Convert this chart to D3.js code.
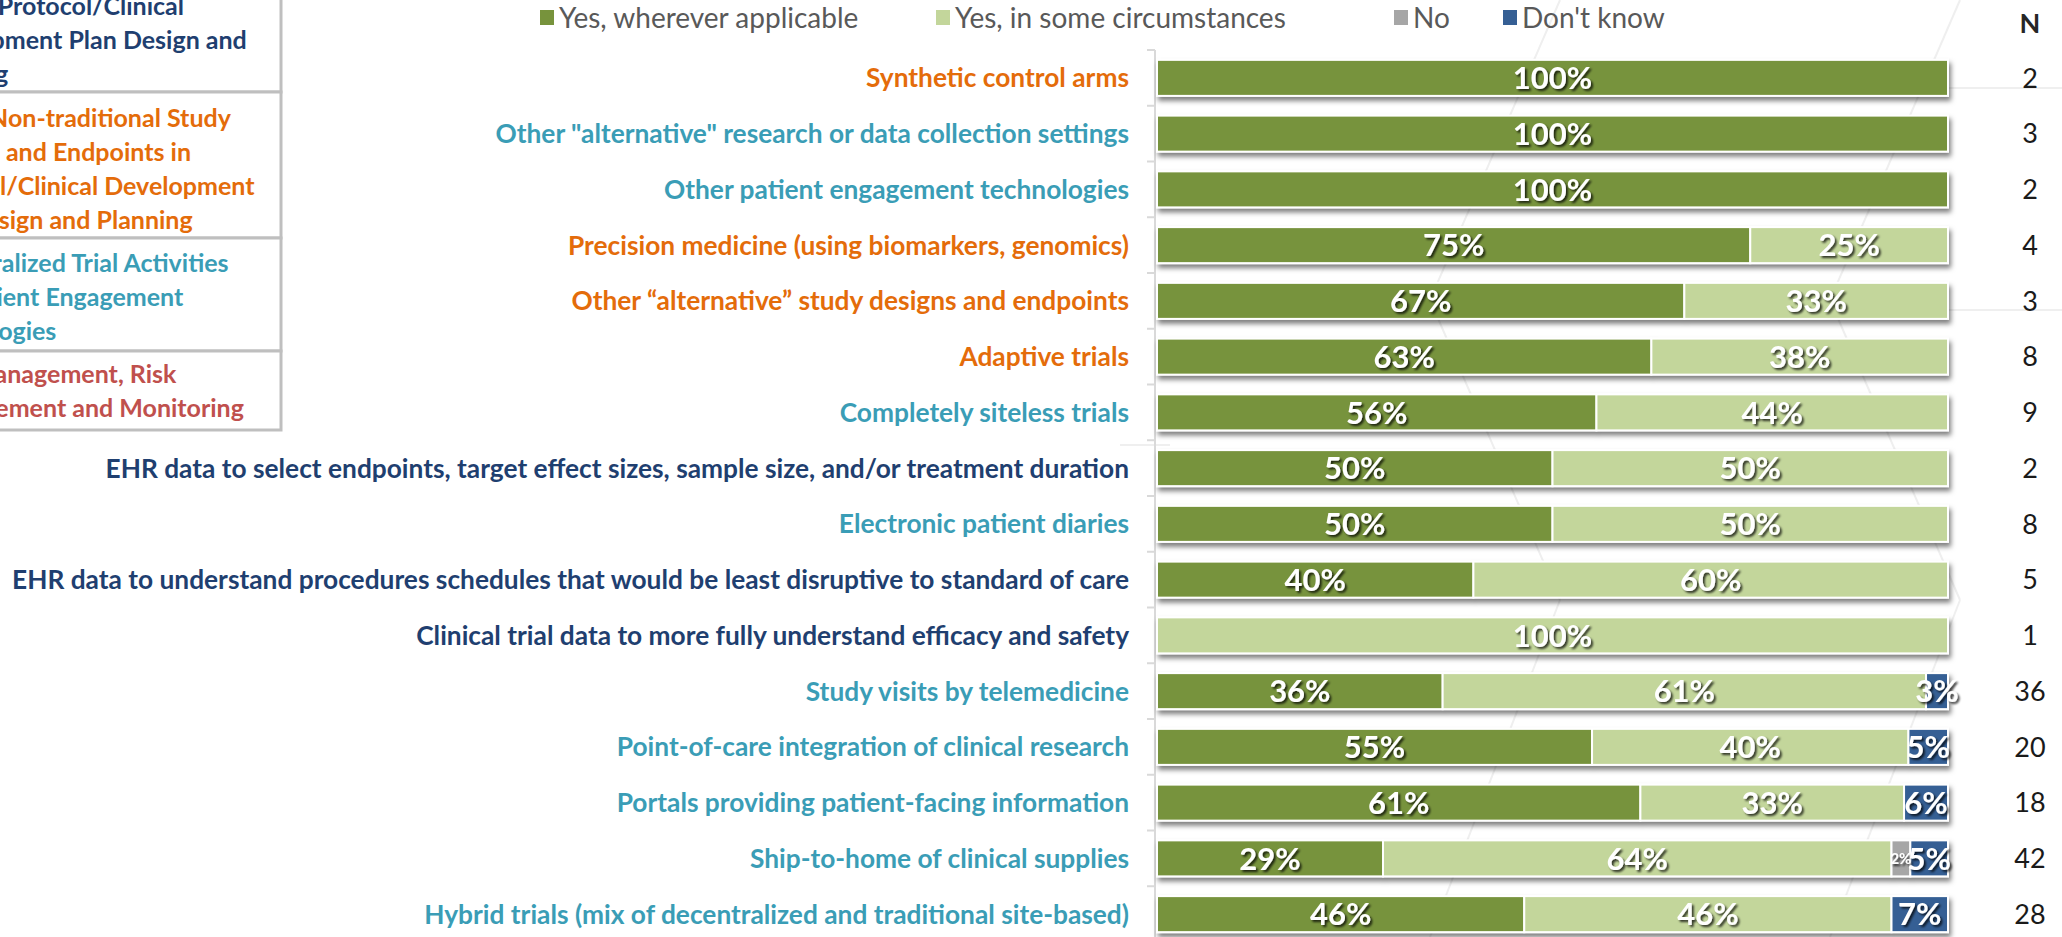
<!DOCTYPE html>
<html>
<head>
<meta charset="utf-8">
<script src="https://cdn.jsdelivr.net/npm/d3@7"></script>
<style>
  html, body { margin: 0; padding: 0; background: #fff; }
  svg { display: block; }
</style>
</head>
<body>
<svg id="chart"></svg>
<script>
// categories, top to bottom
const categories = [
  "Synthetic control arms",
  "Other \"alternative\" research or data collection settings",
  "Other patient engagement technologies",
  "Precision medicine (using biomarkers, genomics)",
  "Other \u201calternative\u201d study designs and endpoints",
  "Adaptive trials",
  "Completely siteless trials",
  "EHR data to select endpoints, target effect sizes, sample size, and/or treatment duration",
  "Electronic patient diaries",
  "EHR data to understand procedures schedules that would be least disruptive to standard of care",
  "Clinical trial data to more fully understand efficacy and safety",
  "Study visits by telemedicine",
  "Point-of-care integration of clinical research",
  "Portals providing patient-facing information",
  "Ship-to-home of clinical supplies",
  "Hybrid trials (mix of decentralized and traditional site-based)"
];
// which area box each category belongs to (colour of its label)
const categoryArea = ["plan", "dct", "dct", "plan", "plan", "plan", "dct", "data",
  "dct", "data", "data", "dct", "dct", "dct", "dct", "dct"];

// respondents per answer, read from N and the % labels
const nTotal        = [2, 3, 2, 4, 3, 8, 9, 2, 8, 5, 1, 36, 20, 18, 42, 28];
const yesWherever   = [2, 3, 2, 3, 2, 5, 5, 1, 4, 2, 0, 13, 11, 11, 12, 13];
const yesSome       = [0, 0, 0, 1, 1, 3, 4, 1, 4, 3, 1, 22,  8,  6, 27, 13];
const answeredNo    = [0, 0, 0, 0, 0, 0, 0, 0, 0, 0, 0,  0,  0,  0,  1,  0];
const dontKnow      = [0, 0, 0, 0, 0, 0, 0, 0, 0, 0, 0,  1,  1,  1,  2,  2];

const seriesNames = ["Yes, wherever applicable", "Yes, in some circumstances", "No", "Don't know"];
const seriesColors = ["#77933c", "#c3d69b", "#a6a6a6", "#355f94"];

const areaColors = { data: "#1f3f70", plan: "#e46c0a", dct: "#3a9db6", risk: "#c0504d" };

// left box with the area names (partly outside the picture)
const areaBoxLines = [
  { area: "data", lines: ["Data in Protocol/Clinical", "Development Plan Design and", "Planning"] },
  { area: "plan", lines: ["Use of Non-traditional Study", "Designs and Endpoints in", "Protocol/Clinical Development", "Plan Design and Planning"] },
  { area: "dct",  lines: ["Decentralized Trial Activities", "and Patient Engagement", "Technologies"] },
  { area: "risk", lines: ["Data Management, Risk", "Measurement and Monitoring"] }
];

const W = 2062, H = 937;
const svg = d3.select("#chart").attr("width", W).attr("height", H);
const font = "Lato, 'Open Sans', sans-serif";

const defs = svg.append("defs");
defs.append("filter").attr("id", "barShadow")
  .attr("x", "-5%").attr("y", "-30%").attr("width", "110%").attr("height", "170%")
  .append("feDropShadow")
  .attr("dx", 2).attr("dy", 4).attr("stdDeviation", 2.5)
  .attr("flood-color", "#000").attr("flood-opacity", 0.5);
defs.append("filter").attr("id", "textShadow")
  .attr("x", "-20%").attr("y", "-30%").attr("width", "140%").attr("height", "160%")
  .append("feDropShadow")
  .attr("dx", 2).attr("dy", 2).attr("stdDeviation", 1)
  .attr("flood-color", "#000").attr("flood-opacity", 0.75);

// faint background lines
const bg = svg.append("g").attr("stroke", "#efefef").attr("stroke-width", 2).attr("fill", "none");
[[1960, 0, 1830, 300], [1830, 300, 1960, 600], [1960, 600, 1830, 937],
 [1560, 0, 1430, 300], [1430, 300, 1560, 600], [1560, 600, 1430, 937],
 [1880, 88, 2062, 88], [1880, 310, 2062, 310], [1120, 445, 1170, 445]]
  .forEach(([x1, y1, x2, y2]) => bg.append("line").attr("x1", x1).attr("y1", y1).attr("x2", x2).attr("y2", y2));

const rows = categories.map((c, i) => {
  const counts = [yesWherever[i], yesSome[i], answeredNo[i], dontKnow[i]];
  let acc = 0;
  return {
    category: c,
    area: categoryArea[i],
    n: nTotal[i],
    segs: counts.map((v, k) => {
      const s = { key: k, x0: acc / nTotal[i], x1: (acc + v) / nTotal[i], v, pct: Math.round(v / nTotal[i] * 100) };
      acc += v;
      return s;
    })
  };
});

const y = d3.scaleBand().domain(categories).range([50, 942]).paddingInner(0.354).paddingOuter(0.177);
const x = d3.scaleLinear().domain([0, 1]).range([1157, 1948]);
const step = y.step();

// axis line with ticks between categories
const axis = svg.append("g").attr("stroke", "#d9d9d9").attr("stroke-width", 2);
axis.append("line").attr("x1", 1155).attr("x2", 1155).attr("y1", 50).attr("y2", H);
categories.forEach((c) => {
  const t = y(c) - step * y.paddingInner() / 2;
  axis.append("line").attr("x1", 1147).attr("x2", 1155).attr("y1", t).attr("y2", t);
});

// bars
const rowG = svg.append("g").selectAll("g").data(rows).join("g")
  .attr("transform", (d) => `translate(0,${y(d.category)})`);

rowG.append("g").attr("filter", "url(#barShadow)")
  .selectAll("rect").data((d) => d.segs.filter((s) => s.v > 0)).join("rect")
  .attr("x", (s) => x(s.x0))
  .attr("width", (s) => x(s.x1) - x(s.x0))
  .attr("y", 0)
  .attr("height", y.bandwidth())
  .attr("fill", (s) => seriesColors[s.key])
  .attr("stroke", "#fff").attr("stroke-width", 2);

rowG.append("g").attr("filter", "url(#textShadow)")
  .selectAll("text").data((d) => d.segs.filter((s) => s.v > 0)).join("text")
  .attr("x", (s) => (x(s.x0) + x(s.x1)) / 2)
  .attr("y", y.bandwidth() / 2)
  .attr("dy", "0.36em")
  .attr("text-anchor", "middle")
  .attr("font-family", font)
  .attr("font-weight", 700)
  .attr("font-size", (s) => s.key === 2 ? 15 : 31)
  .attr("fill", "#fff")
  .text((s) => s.pct + "%");

// category labels
rowG.append("text")
  .attr("x", 1129)
  .attr("y", y.bandwidth() / 2)
  .attr("dy", "0.36em")
  .attr("text-anchor", "end")
  .attr("font-family", font)
  .attr("font-weight", 700)
  .attr("font-size", 26.3)
  .attr("fill", (d) => areaColors[d.area])
  .text((d) => d.category);

// N column
svg.append("text")
  .attr("x", 2030).attr("y", 33)
  .attr("text-anchor", "middle")
  .attr("font-family", font).attr("font-weight", 700).attr("font-size", 27)
  .attr("fill", "#262626")
  .text("N");
rowG.append("text")
  .attr("x", 2030)
  .attr("y", y.bandwidth() / 2)
  .attr("dy", "0.36em")
  .attr("text-anchor", "middle")
  .attr("font-family", font)
  .attr("font-size", 27)
  .attr("fill", "#1a1a1a")
  .text((d) => d.n);

// legend
const legendX = [540, 936, 1394, 1503];
const legend = svg.append("g").selectAll("g").data(seriesNames).join("g")
  .attr("transform", (d, i) => `translate(${legendX[i]},0)`);
legend.append("rect").attr("x", 0).attr("y", 10).attr("width", 14).attr("height", 15)
  .attr("fill", (d, i) => seriesColors[i]);
legend.append("text").attr("x", 19).attr("y", 27.5)
  .attr("font-family", font).attr("font-size", 28).attr("fill", "#595959")
  .text((d) => d);

// area box on the left
const boxRows = [-40, 92, 238, 351, 430];
const box = svg.append("g");
box.selectAll("rect").data(areaBoxLines).join("rect")
  .attr("x", -100).attr("width", 381)
  .attr("y", (d, i) => boxRows[i])
  .attr("height", (d, i) => boxRows[i + 1] - boxRows[i])
  .attr("fill", "#fff").attr("stroke", "#bfbfbf").attr("stroke-width", 3);
const firstBaseline = [15, 127, 272, 383];
box.selectAll("text").data(areaBoxLines).join("text")
  .attr("font-family", font).attr("font-weight", 700).attr("font-size", 25)
  .attr("fill", (d) => areaColors[d.area])
  .each(function (d, i) {
    d3.select(this).selectAll("tspan").data(d.lines).join("tspan")
      .attr("x", -88)
      .attr("y", (l, j) => firstBaseline[i] + j * 34)
      .text((l) => l);
  });
</script>
</body>
</html>
